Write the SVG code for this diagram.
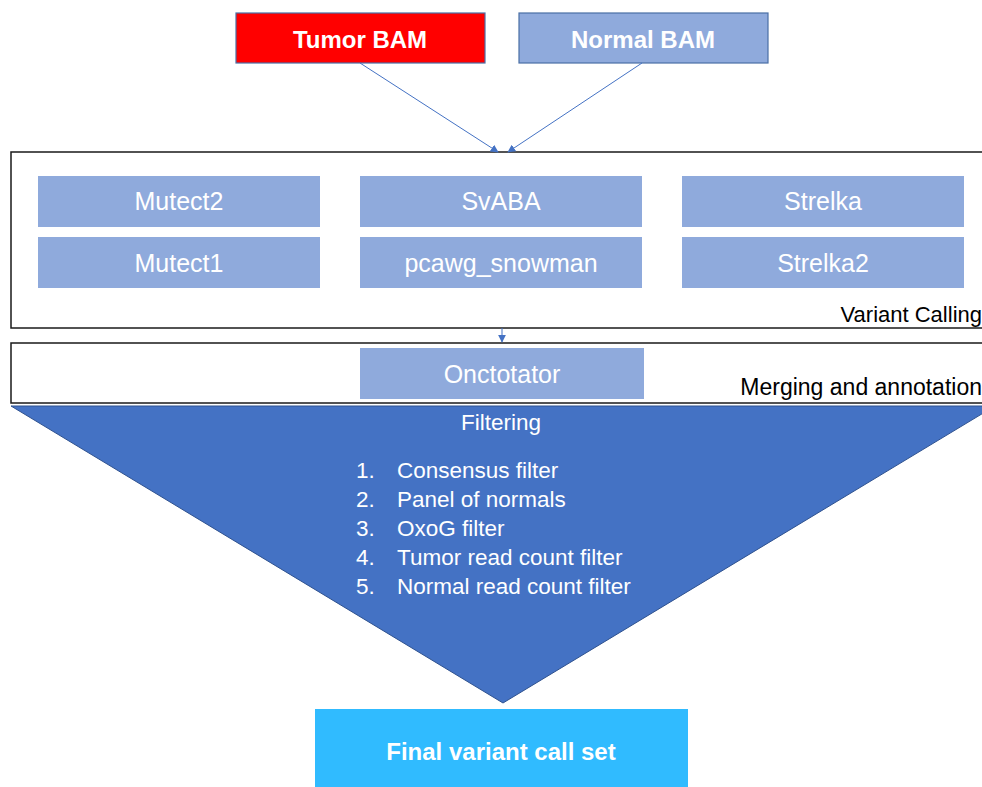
<svg xmlns="http://www.w3.org/2000/svg" width="982" height="787" viewBox="0 0 982 787">
<style>
  text { font-family: "Liberation Sans", Arial, sans-serif; }
  .tool { fill: #8FAADC; }
  .tl { fill: #FFFFFF; font-size: 25px; text-anchor: middle; }
  .frame { fill: #FFFFFF; stroke: #1A1A1A; stroke-width: 1.5; }
  .lbl { fill: #000000; font-size: 22px; text-anchor: end; }
  .bam { stroke: #4A6FA5; stroke-width: 1.2; }
  .bt { fill: #FFFFFF; font-size: 24px; font-weight: bold; text-anchor: middle; }
  .li { fill: #FFFFFF; font-size: 22.5px; }
  .conn { stroke: #4472C4; stroke-width: 1; fill: none; }
</style>
<defs>
  <marker id="ah" viewBox="0 0 10 10" refX="9" refY="5" markerWidth="8" markerHeight="8" markerUnits="userSpaceOnUse" orient="auto">
    <path d="M0,0 L10,5 L0,10 Z" fill="#4472C4"/>
  </marker>
</defs>
<rect width="982" height="787" fill="#FFFFFF"/>

<g id="variant-calling">
  <rect class="frame" x="11" y="152" width="985" height="176"/>
  <text class="lbl" x="982" y="322">Variant Calling</text>
</g>
<g id="merging">
  <rect class="frame" x="11" y="343" width="985" height="60"/>
  <text class="lbl" x="982" y="395" style="font-size:23px">Merging and annotation</text>
</g>

<g id="tumor-bam">
  <rect class="bam" x="236" y="13" width="249" height="50" fill="#FF0000"/>
  <text class="bt" x="360" y="48">Tumor BAM</text>
</g>
<g id="normal-bam">
  <rect class="bam" x="519" y="13" width="249" height="50" fill="#8FAADC"/>
  <text class="bt" x="643" y="48">Normal BAM</text>
</g>

<g id="mutect2"><rect class="tool" x="38" y="176" width="282" height="51"/><text class="tl" x="179" y="210">Mutect2</text></g>
<g id="svaba"><rect class="tool" x="360" y="176" width="282" height="51"/><text class="tl" x="501" y="210">SvABA</text></g>
<g id="strelka"><rect class="tool" x="682" y="176" width="282" height="51"/><text class="tl" x="823" y="210">Strelka</text></g>
<g id="mutect1"><rect class="tool" x="38" y="237" width="282" height="51"/><text class="tl" x="179" y="272">Mutect1</text></g>
<g id="pcawg-snowman"><rect class="tool" x="360" y="237" width="282" height="51"/><text class="tl" x="501" y="272">pcawg_snowman</text></g>
<g id="strelka2"><rect class="tool" x="682" y="237" width="282" height="51"/><text class="tl" x="823" y="272">Strelka2</text></g>

<g id="onctotator"><rect class="tool" x="360" y="348" width="284" height="51"/><text class="tl" x="502" y="383">Onctotator</text></g>

<g id="filtering">
  <polygon points="11,406 995,406 503,703" fill="#4472C4" stroke="#2F528F" stroke-width="1"/>
  <text class="li" x="501" y="430" text-anchor="middle">Filtering</text>
  <text class="li" x="356" y="478">1.</text><text class="li" x="397" y="478">Consensus filter</text>
  <text class="li" x="356" y="507">2.</text><text class="li" x="397" y="507">Panel of normals</text>
  <text class="li" x="356" y="536">3.</text><text class="li" x="397" y="536">OxoG filter</text>
  <text class="li" x="356" y="565">4.</text><text class="li" x="397" y="565">Tumor read count filter</text>
  <text class="li" x="356" y="594">5.</text><text class="li" x="397" y="594">Normal read count filter</text>
</g>

<g id="final-set">
  <rect x="315" y="709" width="373" height="78" fill="#30BBFF"/>
  <text class="bt" x="501" y="760">Final variant call set</text>
</g>

<g id="connectors">
  <line class="conn" x1="360" y1="63" x2="498" y2="152" marker-end="url(#ah)"/>
  <line class="conn" x1="642" y1="63" x2="508" y2="152" marker-end="url(#ah)"/>
  <line class="conn" x1="502" y1="328" x2="502" y2="342" marker-end="url(#ah)"/>
</g>
</svg>
